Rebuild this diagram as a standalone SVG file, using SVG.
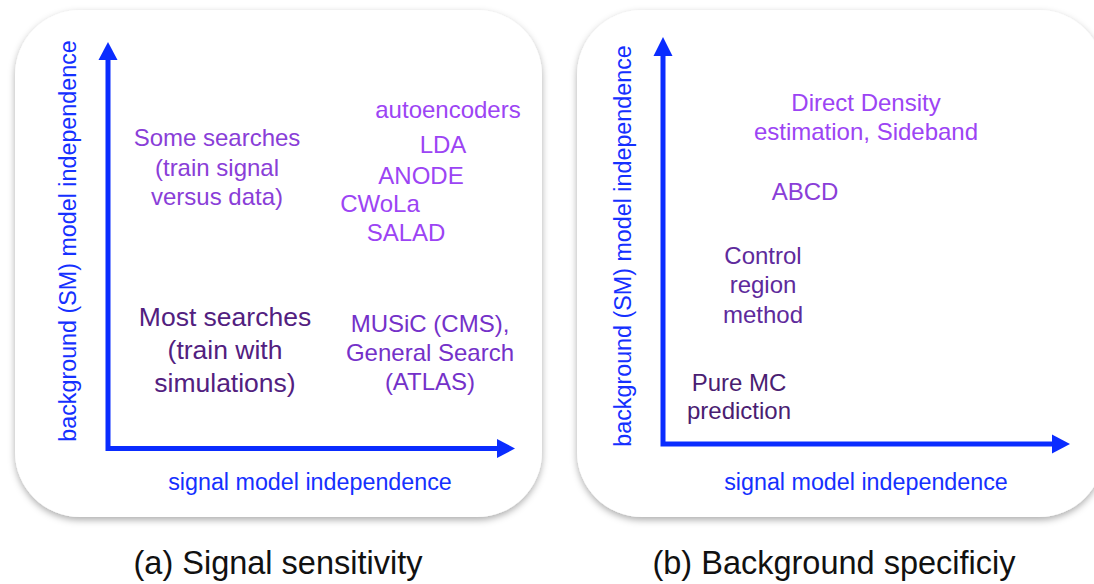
<svg xmlns="http://www.w3.org/2000/svg" width="1094" height="584" viewBox="0 0 1094 584">
<style>
text{font-family:"Liberation Sans",Arial,Helvetica,sans-serif;text-anchor:middle}
.ax{font-size:23.3px;fill:#1530ff}
.t{font-size:24px}
.lp{fill:#9c44f4}
.mp{fill:#8a3ed8}
.mp2{fill:#7431c9}
.dp{fill:#52207f}
.cp{fill:#5e2a9c}
.pp{fill:#4a1d72}
.cap{font-size:32.5px;fill:#111}
.axis{fill:none;stroke:#0a2cff;stroke-width:5;stroke-linejoin:miter}
.head{fill:#0a2cff}
.panel{fill:#fff;filter:url(#sh)}
</style>
<defs>
<filter id="sh" x="-10%" y="-10%" width="120%" height="120%">
<feDropShadow dx="0" dy="3" stdDeviation="3.5" flood-color="#000" flood-opacity="0.32"/>
</filter>
</defs>
<rect width="1094" height="584" fill="#fff"/>
<g id="panel-a">
<rect class="panel" x="15" y="10" width="527" height="507" rx="65"/>
</g>
<g id="panel-b">
<rect class="panel" x="577" y="10" width="527" height="507" rx="65"/>
</g>
<g id="connectors">
<path class="axis" d="M108,58 V448.5 H499"/>
<polygon class="head" points="108,42 98.5,60 117.5,60"/>
<polygon class="head" points="515,448.5 497,439 497,458"/>
<path class="axis" d="M663,54 V444 H1054"/>
<polygon class="head" points="663,37 653.5,56 672.5,56"/>
<polygon class="head" points="1070,444 1052,434.5 1052,453.5"/>
</g>
<g id="axis-labels-a">
<text class="ax" transform="translate(76,241) rotate(-90)">background (SM) model independence</text>
<text class="ax" x="310" y="490">signal model independence</text>
</g>
<g id="axis-labels-b">
<text class="ax" transform="translate(631,246) rotate(-90)">background (SM) model independence</text>
<text class="ax" x="866" y="490">signal model independence</text>
</g>
<g id="autoencoders"><text class="t lp" x="448" y="118">autoencoders</text></g>
<g id="lda"><text class="t lp" x="443" y="153">LDA</text></g>
<g id="anode"><text class="t lp" x="421" y="184">ANODE</text></g>
<g id="cwola"><text class="t lp" x="380" y="212">CWoLa</text></g>
<g id="salad"><text class="t lp" x="406" y="241">SALAD</text></g>
<g id="some-searches">
<text class="t mp" x="217" y="146">Some searches</text>
<text class="t mp" x="217" y="176">(train signal</text>
<text class="t mp" x="217" y="205">versus data)</text>
</g>
<g id="most-searches">
<text class="dp" style="font-size:26.5px" x="225" y="326">Most searches</text>
<text class="dp" style="font-size:26.5px" x="225" y="359">(train with</text>
<text class="dp" style="font-size:26.5px" x="225" y="392">simulations)</text>
</g>
<g id="music">
<text class="t mp2" x="430" y="332">MUSiC (CMS),</text>
<text class="t mp2" x="430" y="361">General Search</text>
<text class="t mp2" x="430" y="390">(ATLAS)</text>
</g>
<g id="direct-density">
<text class="t lp" x="866" y="111">Direct Density</text>
<text class="t lp" x="866" y="140">estimation, Sideband</text>
</g>
<g id="abcd"><text class="t mp" x="805" y="200">ABCD</text></g>
<g id="control-region">
<text class="t cp" x="763" y="264">Control</text>
<text class="t cp" x="763" y="293">region</text>
<text class="t cp" x="763" y="323">method</text>
</g>
<g id="pure-mc">
<text class="t pp" x="739" y="391">Pure MC</text>
<text class="t pp" x="739" y="419">prediction</text>
</g>
<g id="captions">
<text class="cap" x="278" y="574">(a) Signal sensitivity</text>
<text class="cap" x="834" y="574">(b) Background specificiy</text>
</g>
</svg>
